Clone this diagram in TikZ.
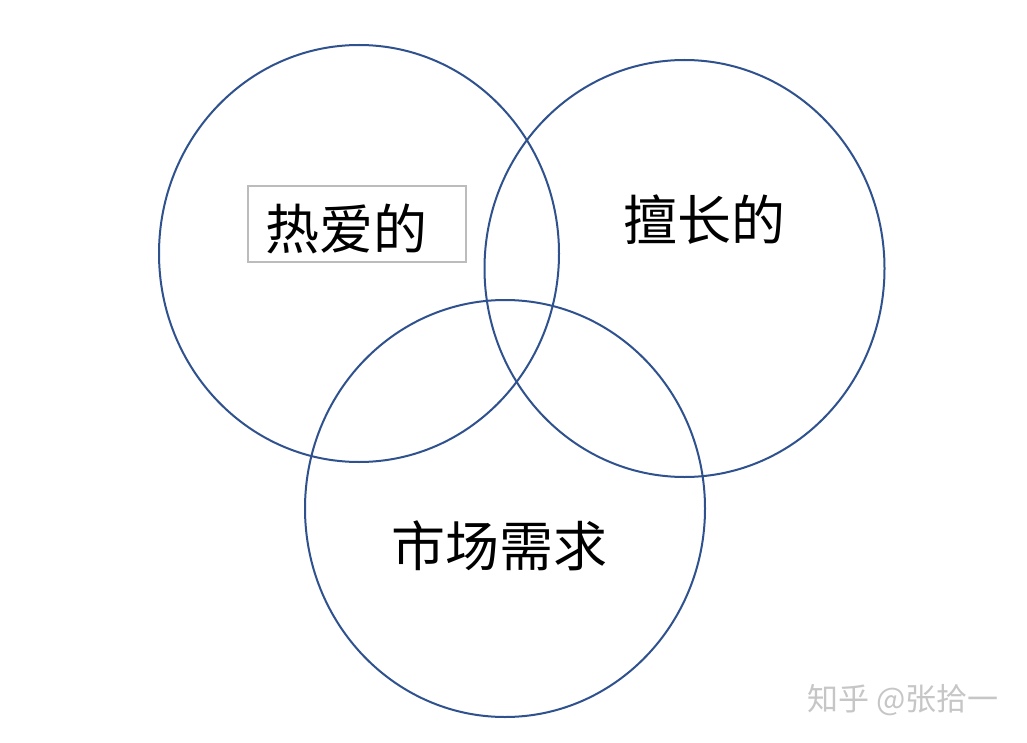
\documentclass[tikz,border=0pt]{standalone}
\usepackage{fontspec}
\newfontfamily\cjk{Noto Sans CJK SC}
\usetikzlibrary{shapes.geometric}
\definecolor{ring}{HTML}{2F528F}
\definecolor{frame}{HTML}{BCBCBC}
\definecolor{stamp}{HTML}{C6C6C6}

\begin{document}
\begin{tikzpicture}[
  x=0.5pt, y=-0.5pt,
  set/.style={ellipse, draw=ring, line width=1pt, inner sep=0pt,
              minimum width=200pt, minimum height=208.5pt},
  lbl/.style={font=\cjk\fontsize{27}{30}\selectfont, inner sep=0pt},
  tag/.style={draw=frame, line width=1pt, inner sep=0pt,
              minimum width=109pt, minimum height=38pt},
  stampfont/.style={font=\cjk\fontsize{15.5}{18}\selectfont, text=stamp,
                    inner sep=0pt},
]
\fill[white] (0,0) rectangle (1027,743);
\useasboundingbox (0,0) rectangle (1027,743);

% the three sets
\node[set] (love)   at (359,253.5) {};
\node[set] (skill)  at (684.5,268.5) {};
\node[set] (market) at (505,508.5) {};

% labels
\node[tag] (lovebox) at (357,224) {};
\node[lbl] (lovetxt) at (346,229) {热爱的};
\node[lbl] (skilltxt) at (704,220) {擅长的};
\node[lbl] (markettxt) at (499,546) {市场需求};

% watermark
\node[stampfont] (stamp) at (903,700) {知乎 @张拾一};

\end{tikzpicture}
\end{document}
